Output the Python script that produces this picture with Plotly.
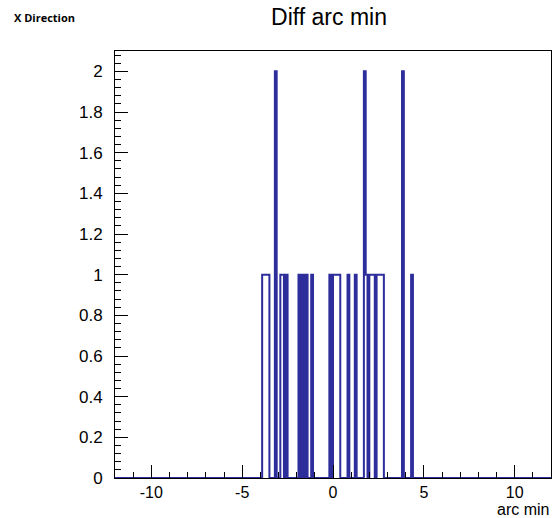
import plotly.graph_objects as go

# Histogram definition (ROOT-style TH1)
x_min = -12.0
x_max = 12.0
bin_width = 0.1

# Non-empty bins: bin centres and their counts
bin_centres = [-3.85, -3.75, -3.65, -3.55, -3.15, -2.85, -2.75, -2.55,
               -1.85, -1.65, -1.45, -1.15, -0.15, 0.05, 0.15, 0.25,
               0.35, 0.85, 1.25, 1.75, 1.85, 2.05, 2.15, 2.25, 2.45, 2.55,
               2.65, 2.75, 3.85, 4.35]
bin_counts = [1, 1, 1, 1, 2, 1, 1, 1,
              1, 1, 1, 1, 1, 1, 1, 1,
              1, 1, 1, 2, 1, 1, 1, 1, 1, 1,
              1, 1, 2, 1]

x_ticks = [-10, -5, 0, 5, 10]
y_ticks = [0, 0.2, 0.4, 0.6, 0.8, 1, 1.2, 1.4, 1.6, 1.8, 2]

n_bins = int(round((x_max - x_min) / bin_width))
counts = [0] * n_bins
for c, v in zip(bin_centres, bin_counts):
    i = int((c - x_min) / bin_width)
    counts[i] += v
edges = [x_min + i * bin_width for i in range(n_bins + 1)]
step_y = counts + [0]

line_col = "#2d2d9c"
font_main = "Liberation Sans, Arial, sans-serif"

fig = go.Figure()
fig.add_trace(go.Scatter(
    x=edges, y=step_y, mode="lines", line_shape="hv",
    line=dict(color=line_col, width=2), hoverinfo="skip", showlegend=False,
))

fig.update_layout(
    width=553, height=518,
    margin=dict(l=115, r=2, t=51, b=40),
    paper_bgcolor="white", plot_bgcolor="white",
    font=dict(family=font_main, color="black", size=16),
    showlegend=False,
    title=dict(text="Diff arc min", x=0.595, xanchor="center", y=0.968,
               yanchor="middle", font=dict(size=23, family=font_main)),
    annotations=[
        dict(text="<b>X Direction</b>", xref="paper", yref="paper",
             x=-0.236, y=1.078, xanchor="left", yanchor="middle", showarrow=False,
             font=dict(size=11, family="Open Sans, sans-serif")),
        dict(text="arc min", xref="paper", yref="paper",
             x=1.0, y=-0.073, xanchor="right", yanchor="middle", showarrow=False,
             font=dict(size=16, family=font_main)),
    ],
)

fig.update_xaxes(
    range=[x_min, x_max], tickvals=x_ticks, ticktext=[str(v) for v in x_ticks],
    ticks="inside", ticklen=13, tickwidth=1, tickcolor="black",
    minor=dict(dtick=1, tick0=0, ticks="inside", ticklen=6, tickwidth=1,
               tickcolor="black", showgrid=False),
    showline=True, linecolor="black", linewidth=1, mirror=True,
    showgrid=False, zeroline=False, tickfont=dict(size=16),
    ticklabelstandoff=0,
)
fig.update_yaxes(
    range=[0, 2.1], tickvals=y_ticks, ticktext=[f"{v:g}" for v in y_ticks],
    ticks="inside", ticklen=13, tickwidth=1, tickcolor="black",
    minor=dict(dtick=0.04, tick0=0, ticks="inside", ticklen=6, tickwidth=1,
               tickcolor="black", showgrid=False),
    showline=True, linecolor="black", linewidth=1, mirror=True,
    showgrid=False, zeroline=False, tickfont=dict(size=17),
    ticklabelstandoff=8,
)

fig.write_html("out.html")
